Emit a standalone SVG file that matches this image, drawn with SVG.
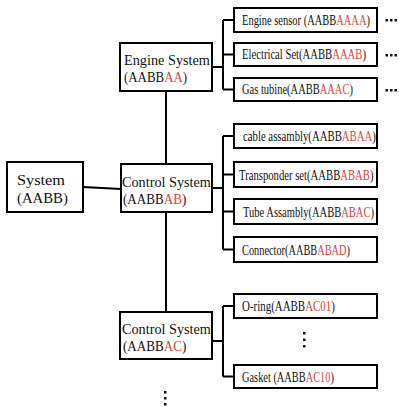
<svg xmlns="http://www.w3.org/2000/svg" width="399" height="407" viewBox="0 0 399 407">
<style>
.box{fill:#fff;stroke:#000;stroke-width:2}
.ln{fill:none;stroke:#000;stroke-width:2}
.t{font-family:"Liberation Serif","DejaVu Serif",serif;fill:#111}
.m{font-size:15px}
.s{font-size:14px}
.r{fill:#d9443f}
.dot{fill:#111}
</style>
<rect width="399" height="407" fill="#fff"/>
<g id="connectors">
<path class="ln" d="M166 91V164M166 212V312M83 187L121 189"/>
<path class="ln" d="M212 67H223M223 20V89.5M223 20H234M223 54.5H234M223 89.5H234"/>
<path class="ln" d="M212 188H223M223 136V249.5M223 136H234M223 174.5H234M223 211.5H234M223 249.5H234"/>
<path class="ln" d="M212 341H223M223 306V376.5M223 306H234M223 376.5H234"/>
</g>
<g id="system">
<rect class="box" x="7" y="162" width="76" height="50"/>
<text class="t m" transform="translate(17,185) scale(1.088,1)">System</text>
<text class="t m" transform="translate(17,203) scale(0.986,1)">(AABB)</text>
</g>
<g id="engine">
<rect class="box" x="120" y="43" width="92" height="48"/>
<text class="t m" transform="translate(124,65) scale(0.952,1)">Engine System</text>
<text class="t m" transform="translate(124,82) scale(0.861,1)">(AABB<tspan class="r">AA</tspan>)</text>
</g>
<g id="controlAB">
<rect class="box" x="121" y="164" width="91" height="48"/>
<text class="t m" transform="translate(122,187) scale(0.949,1)">Control System</text>
<text class="t m" transform="translate(123,204) scale(0.873,1)">(AABB<tspan class="r">AB</tspan>)</text>
</g>
<g id="controlAC">
<rect class="box" x="120" y="312" width="92" height="47"/>
<text class="t m" transform="translate(122,334) scale(0.949,1)">Control System</text>
<text class="t m" transform="translate(123,351) scale(0.873,1)">(AABB<tspan class="r">AC</tspan>)</text>
</g>
<g id="engineSensor">
<rect class="box" x="234" y="8" width="143" height="24"/>
<text class="t s" transform="translate(242,24.5) scale(0.748,1)">Engine sensor (AABB<tspan class="r">AAAA</tspan>)</text>
</g>
<g id="electricalSet">
<rect class="box" x="234" y="43" width="143" height="23"/>
<text class="t s" transform="translate(242,59) scale(0.761,1)">Electrical Set(AABB<tspan class="r">AAAB</tspan>)</text>
</g>
<g id="gasTubine">
<rect class="box" x="234" y="78" width="143" height="23"/>
<text class="t s" transform="translate(242,94) scale(0.749,1)">Gas tubine(AABB<tspan class="r">AAAC</tspan>)</text>
</g>
<g id="cableAssambly">
<rect class="box" x="234" y="124" width="143" height="24"/>
<text class="t s" transform="translate(243,141) scale(0.769,1)">cable assambly(AABB<tspan class="r">ABAA</tspan>)</text>
</g>
<g id="transponderSet">
<rect class="box" x="234" y="162" width="143" height="25"/>
<text class="t s" transform="translate(239,179.5) scale(0.763,1)">Transponder set(AABB<tspan class="r">ABAB</tspan>)</text>
</g>
<g id="tubeAssambly">
<rect class="box" x="234" y="199" width="143" height="25"/>
<text class="t s" transform="translate(243,216.5) scale(0.753,1)">Tube Assambly(AABB<tspan class="r">ABAC</tspan>)</text>
</g>
<g id="connector">
<rect class="box" x="234" y="237" width="143" height="25"/>
<text class="t s" transform="translate(242,254.5) scale(0.739,1)">Connector(AABB<tspan class="r">ABAD</tspan>)</text>
</g>
<g id="oRing">
<rect class="box" x="234" y="294" width="143" height="24"/>
<text class="t s" transform="translate(242,311) scale(0.782,1)">O-ring(AABB<tspan class="r">AC01</tspan>)</text>
</g>
<g id="gasket">
<rect class="box" x="234" y="365" width="143" height="23"/>
<text class="t s" transform="translate(242,381.5) scale(0.742,1)">Gasket (AABB<tspan class="r">AC10</tspan>)</text>
</g>
<g id="ellipses">
<rect class="dot" x="385.5" y="19" width="2.5" height="2.5"/><rect class="dot" x="390" y="19" width="2.5" height="2.5"/><rect class="dot" x="394.5" y="19" width="2.5" height="2.5"/>
<rect class="dot" x="385.5" y="54" width="2.5" height="2.5"/><rect class="dot" x="390" y="54" width="2.5" height="2.5"/><rect class="dot" x="394.5" y="54" width="2.5" height="2.5"/>
<rect class="dot" x="385.5" y="89" width="2.5" height="2.5"/><rect class="dot" x="390" y="89" width="2.5" height="2.5"/><rect class="dot" x="394.5" y="89" width="2.5" height="2.5"/>
<rect class="dot" x="303" y="332" width="2.5" height="2.5"/><rect class="dot" x="303" y="338.5" width="2.5" height="2.5"/><rect class="dot" x="303" y="345" width="2.5" height="2.5"/>
<rect class="dot" x="164" y="391" width="2.5" height="2.5"/><rect class="dot" x="164" y="397" width="2.5" height="2.5"/><rect class="dot" x="164" y="403" width="2.5" height="2.5"/>
</g>
</svg>
